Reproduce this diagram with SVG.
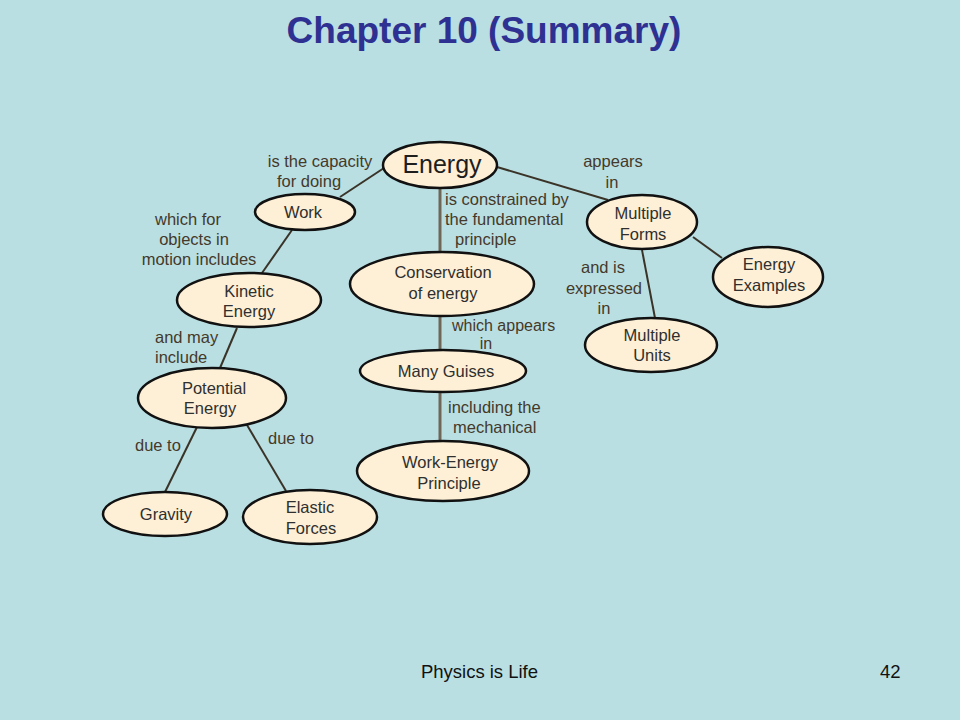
<svg xmlns="http://www.w3.org/2000/svg" width="960" height="720" viewBox="0 0 960 720">
<style>
.bg{fill:#b9dfe3}
.node ellipse{fill:#fdf0d6;stroke:#111;stroke-width:2.5}
.node text{font-family:"Liberation Sans",Arial,sans-serif;font-size:16.5px;fill:#2f2f2f;text-anchor:middle}
.lbl{font-family:"Liberation Sans",Arial,sans-serif;font-size:16.5px;fill:#45392a}
.mid{text-anchor:middle}
.conn line{stroke:#3a3328;stroke-width:2}
.conn line.v{stroke:#6f6658;stroke-width:3}
.title{font-family:"Liberation Sans",Arial,sans-serif;font-size:37px;font-weight:bold;fill:#2e3192;text-anchor:middle}
.foot{font-family:"Liberation Sans",Arial,sans-serif;font-size:18.5px;fill:#111}
</style>
<rect class="bg" x="0" y="0" width="960" height="720"/>
<text class="title" x="484" y="43">Chapter 10 (Summary)</text>

<g id="connectors" class="conn">
<line x1="384" y1="168" x2="340" y2="197"/>
<line class="v" x1="440" y1="188" x2="440" y2="252"/>
<line x1="497" y1="167" x2="608" y2="200"/>
<line x1="693" y1="237" x2="722" y2="258"/>
<line x1="642" y1="250" x2="655" y2="318"/>
<line x1="292" y1="230" x2="262" y2="273"/>
<line x1="237" y1="328" x2="220" y2="368"/>
<line x1="197" y1="427" x2="165" y2="492"/>
<line x1="247" y1="425" x2="286" y2="491"/>
<line class="v" x1="440" y1="316" x2="440" y2="350"/>
<line class="v" x1="440" y1="392" x2="440" y2="441"/>
</g>

<g id="labels">
<text class="lbl mid" x="320" y="167">is the capacity</text>
<text class="lbl mid" x="309" y="187">for doing</text>
<text class="lbl" x="445" y="205">is constrained by</text>
<text class="lbl" x="445" y="225">the fundamental</text>
<text class="lbl" x="455" y="245">principle</text>
<text class="lbl mid" x="613" y="167">appears</text>
<text class="lbl mid" x="612" y="188">in</text>
<text class="lbl mid" x="603" y="273">and is</text>
<text class="lbl mid" x="604" y="294">expressed</text>
<text class="lbl mid" x="604" y="314">in</text>
<text class="lbl mid" x="188" y="225">which for</text>
<text class="lbl mid" x="194" y="245">objects in</text>
<text class="lbl mid" x="199" y="265">motion includes</text>
<text class="lbl" x="155" y="343">and may</text>
<text class="lbl" x="155" y="363">include</text>
<text class="lbl" x="135" y="451">due to</text>
<text class="lbl" x="268" y="444">due to</text>
<text class="lbl" x="452" y="331" style="font-size:16px">which appears</text>
<text class="lbl mid" x="486" y="349" style="font-size:16px">in</text>
<text class="lbl" x="448" y="413">including the</text>
<text class="lbl" x="453" y="433">mechanical</text>
</g>

<g id="n-energy" class="node">
<ellipse cx="440" cy="165" rx="57" ry="23"/>
<text x="442" y="173" style="font-size:25px;fill:#1e1e1e">Energy</text>
</g>
<g id="n-work" class="node">
<ellipse cx="305" cy="212" rx="50" ry="18"/>
<text x="303" y="218">Work</text>
</g>
<g id="n-forms" class="node">
<ellipse cx="642" cy="222" rx="55" ry="27"/>
<text x="643" y="219">Multiple</text>
<text x="643" y="240">Forms</text>
</g>
<g id="n-examples" class="node">
<ellipse cx="768" cy="277" rx="55" ry="30"/>
<text x="769" y="270">Energy</text>
<text x="769" y="291">Examples</text>
</g>
<g id="n-units" class="node">
<ellipse cx="651" cy="345" rx="66" ry="27"/>
<text x="652" y="341">Multiple</text>
<text x="652" y="361">Units</text>
</g>
<g id="n-kinetic" class="node">
<ellipse cx="249" cy="300" rx="72" ry="27"/>
<text x="249" y="297">Kinetic</text>
<text x="249" y="317">Energy</text>
</g>
<g id="n-potential" class="node">
<ellipse cx="212" cy="398" rx="74" ry="30"/>
<text x="214" y="394">Potential</text>
<text x="210" y="414">Energy</text>
</g>
<g id="n-conservation" class="node">
<ellipse cx="442" cy="284" rx="92" ry="32"/>
<text x="443" y="278">Conservation</text>
<text x="443" y="299">of energy</text>
</g>
<g id="n-guises" class="node">
<ellipse cx="443" cy="371" rx="83" ry="21"/>
<text x="446" y="377">Many Guises</text>
</g>
<g id="n-workenergy" class="node">
<ellipse cx="443" cy="471" rx="86" ry="30"/>
<text x="450" y="468">Work-Energy</text>
<text x="449" y="489">Principle</text>
</g>
<g id="n-gravity" class="node">
<ellipse cx="165" cy="514" rx="62" ry="22"/>
<text x="166" y="520">Gravity</text>
</g>
<g id="n-elastic" class="node">
<ellipse cx="310" cy="517" rx="67" ry="27"/>
<text x="310" y="513">Elastic</text>
<text x="311" y="534">Forces</text>
</g>

<text class="foot" x="421" y="678" textLength="117">Physics is Life</text>
<text class="foot" x="880" y="678">42</text>
</svg>
